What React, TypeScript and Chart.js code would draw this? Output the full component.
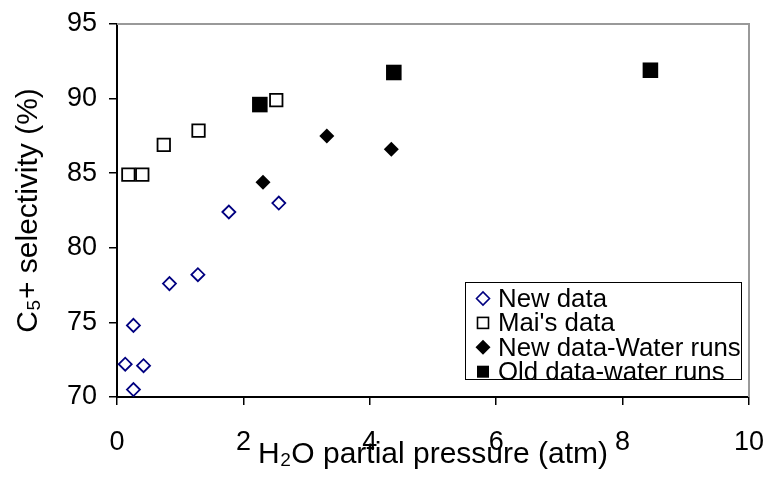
import React, { useEffect, useRef } from 'react';
import { Chart, registerables } from 'chart.js';

Chart.register(...registerables);

// ---- data ----
const newDataX = [0.13, 0.26, 0.42, 0.26, 0.83, 1.28, 1.77, 2.56];
const newDataY = [72.2, 74.8, 72.1, 70.5, 77.6, 78.2, 82.4, 83.0];
const maiX = [0.18, 0.4, 0.74, 1.29, 2.52];
const maiY = [84.9, 84.9, 86.9, 87.85, 89.9];
const newWaterX = [2.31, 3.32, 4.34];
const newWaterY = [84.4, 87.5, 86.6];
const oldWaterX = [2.26, 4.38, 8.44];
const oldWaterY = [89.6, 91.75, 91.9];
const seriesLabels = ['New data', "Mai's data", 'New data-Water runs', 'Old data-water runs'];
const xTitle = 'H\u2082O partial pressure (atm)';
const yTitle = 'C\u2085+ selectivity (%)';

const FONT = '"Liberation Sans", Arial, Helvetica, sans-serif';
const NAVY = '#000080';

const pts = (xs: number[], ys: number[]) => xs.map((x, i) => ({ x, y: ys[i] }));

const framePlugin = {
  id: 'frame',
  beforeDatasetsDraw(chart: any) {
    const { ctx, chartArea: ca } = chart;
    ctx.save();
    ctx.strokeStyle = '#999999';
    ctx.lineWidth = 2;
    ctx.beginPath();
    ctx.moveTo(ca.left, ca.top);
    ctx.lineTo(ca.right, ca.top);
    ctx.lineTo(ca.right, ca.bottom);
    ctx.stroke();
    ctx.restore();
  },
};

const legendPlugin = {
  id: 'boxLegend',
  afterDraw(chart: any) {
    const { ctx, chartArea: ca } = chart;
    const w = 276;
    const h = 97;
    const x1 = ca.right - 8;
    const y1 = ca.bottom - 18;
    const x0 = x1 - w;
    const y0 = y1 - h;
    ctx.save();
    ctx.fillStyle = '#ffffff';
    ctx.fillRect(x0, y0, w, h);
    ctx.beginPath();
    ctx.rect(x0, y0, w, h);
    ctx.clip();
    const mx = x0 + 18;
    const tx = x0 + 33;
    const rowH = 24.4;
    ctx.font = `25.8px ${FONT}`;
    ctx.textBaseline = 'alphabetic';
    ctx.textAlign = 'left';
    chart.data.datasets.forEach((ds: any, i: number) => {
      const base = y0 + 25 + i * rowH;
      const my = base - 8.5;
      ctx.lineWidth = 1.6;
      if (i === 0) {
        const r = 6.5;
        ctx.strokeStyle = NAVY;
        ctx.beginPath();
        ctx.moveTo(mx - r, my);
        ctx.lineTo(mx, my - r);
        ctx.lineTo(mx + r, my);
        ctx.lineTo(mx, my + r);
        ctx.closePath();
        ctx.stroke();
      } else if (i === 1) {
        const s = 11;
        ctx.strokeStyle = '#000';
        ctx.strokeRect(mx - s / 2, my - s / 2, s, s);
      } else if (i === 2) {
        const r = 7.5;
        ctx.fillStyle = '#000';
        ctx.beginPath();
        ctx.moveTo(mx - r, my);
        ctx.lineTo(mx, my - r);
        ctx.lineTo(mx + r, my);
        ctx.lineTo(mx, my + r);
        ctx.closePath();
        ctx.fill();
      } else {
        const s = 12;
        ctx.fillStyle = '#000';
        ctx.fillRect(mx - s / 2, my - s / 2, s, s);
      }
      ctx.fillStyle = '#000';
      ctx.fillText(ds.label, tx, base);
    });
    ctx.restore();
    ctx.save();
    ctx.strokeStyle = '#000';
    ctx.lineWidth = 1;
    ctx.strokeRect(x0 + 0.5, y0 + 0.5, w, h);
    ctx.restore();
  },
};

export default function App() {
  const ref = useRef<HTMLCanvasElement | null>(null);

  useEffect(() => {
    if (!ref.current) return;
    Chart.defaults.font.family = FONT;
    Chart.defaults.color = '#000';
    const chart = new Chart(ref.current, {
      type: 'scatter',
      data: {
        datasets: [
          {
            label: seriesLabels[0],
            data: pts(newDataX, newDataY),
            pointStyle: 'rectRot',
            pointRadius: 6.5,
            borderColor: NAVY,
            backgroundColor: 'rgba(255,255,255,0)',
            borderWidth: 1.8,
          },
          {
            label: seriesLabels[1],
            data: pts(maiX, maiY),
            pointStyle: 'rect',
            pointRadius: 8.8,
            borderColor: '#000',
            backgroundColor: 'rgba(255,255,255,0)',
            borderWidth: 1.8,
          },
          {
            label: seriesLabels[2],
            data: pts(newWaterX, newWaterY),
            pointStyle: 'rectRot',
            pointRadius: 7.5,
            borderColor: '#000',
            backgroundColor: '#000',
            borderWidth: 0,
          },
          {
            label: seriesLabels[3],
            data: pts(oldWaterX, oldWaterY),
            pointStyle: 'rect',
            pointRadius: 11,
            borderColor: '#000',
            backgroundColor: '#000',
            borderWidth: 0,
          },
        ],
      },
      options: {
        responsive: false,
        animation: false,
        devicePixelRatio: 1,
        layout: { padding: { top: 24, right: 18, left: 0, bottom: 0 } },
        plugins: {
          legend: { display: false },
          tooltip: { enabled: false },
        },
        scales: {
          x: {
            type: 'linear',
            min: 0,
            max: 10,
            afterFit: (s: any) => {
              s.height = 81;
              s.paddingLeft = 0;
              s.paddingRight = 0;
            },
            ticks: {
              stepSize: 2,
              padding: 21,
              color: '#000',
              font: { size: 27 },
              maxRotation: 0,
            },
            grid: {
              drawOnChartArea: false,
              drawTicks: true,
              tickLength: 8,
              color: '#000',
              lineWidth: 1.5,
            },
            border: { color: '#000', width: 2 },
            title: {
              display: true,
              text: xTitle,
              color: '#000',
              font: { size: 30 },
              padding: { top: 0, bottom: 5 },
            },
          },
          y: {
            type: 'linear',
            min: 70,
            max: 95,
            afterFit: (s: any) => {
              s.width = 117;
              s.paddingTop = 0;
              s.paddingBottom = 0;
            },
            ticks: {
              stepSize: 5,
              padding: 12,
              color: '#000',
              font: { size: 27 },
            },
            grid: {
              drawOnChartArea: false,
              drawTicks: true,
              tickLength: 8,
              color: '#000',
              lineWidth: 1.5,
            },
            border: { color: '#000', width: 2 },
            title: {
              display: true,
              text: yTitle,
              color: '#000',
              font: { size: 30 },
              padding: { top: 11, bottom: 0 },
            },
          },
        },
      },
      plugins: [framePlugin, legendPlugin],
    } as any);
    return () => chart.destroy();
  }, []);

  return (
    <div style={{ position: 'absolute', left: 0, top: 0, width: 767, height: 478, background: '#fff' }}>
      <canvas ref={ref} width={767} height={478} style={{ display: 'block' }} />
    </div>
  );
}
